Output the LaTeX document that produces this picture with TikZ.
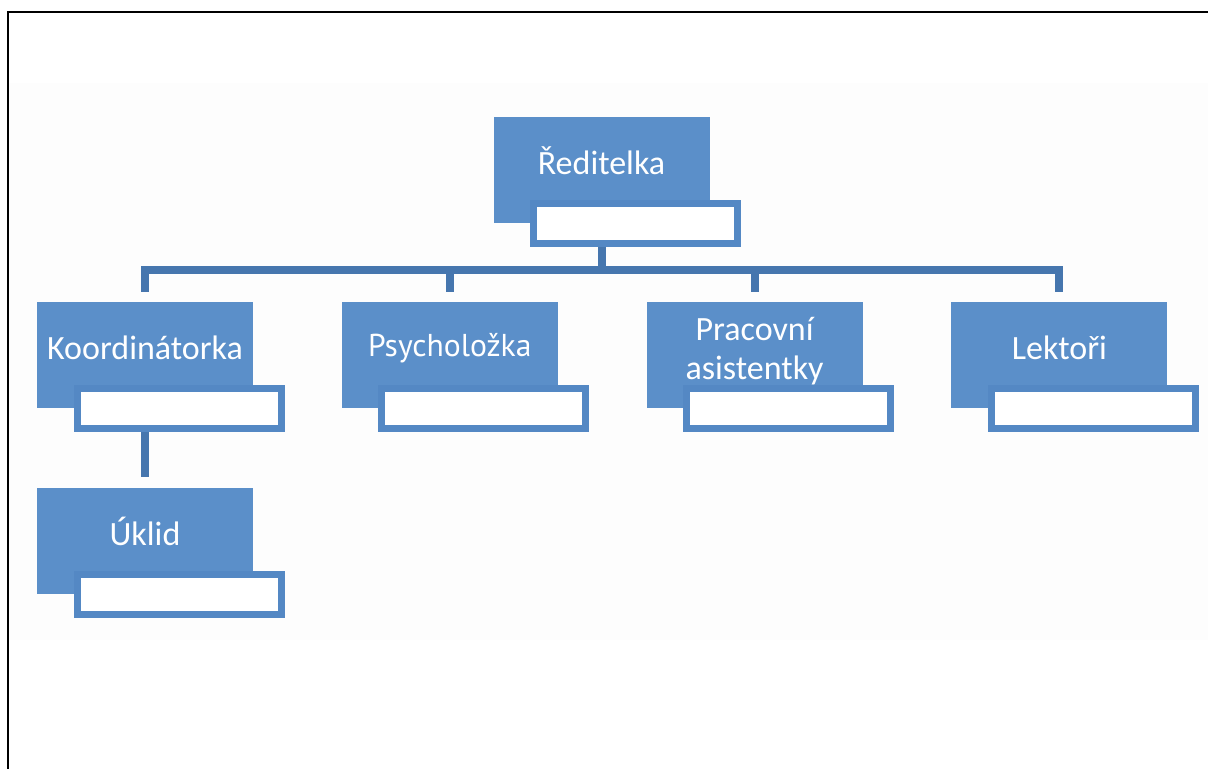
\documentclass[tikz,border=0pt]{standalone}
\usepackage{fontspec}
\setmainfont{Carlito}
\newfontfamily\psyfont{PT Sans}
\usetikzlibrary{positioning}
\definecolor{boxblue}{RGB}{91,143,201}
\definecolor{tabblue}{RGB}{84,136,196}
\definecolor{linkblue}{RGB}{70,118,174}

\begin{document}
\begin{tikzpicture}[x=0.5pt, y=-0.5pt,
		unit/.style={fill=boxblue, text=white, minimum width=108pt, minimum height=53pt, inner sep=2pt, font=\fontsize{17pt}{19.5pt}\selectfont, text height=13pt, text depth=8pt},
		tab/.style={draw=tabblue, line width=3.5pt, fill=white, minimum width=102pt, minimum height=20pt, inner sep=0pt, xshift=17pt},
		link/.style={draw=linkblue, line width=4pt}]
		\fill [white] (0,0) rectangle (1208,769);
		\useasboundingbox (0,0) rectangle (1208,769);
		\fill [black!0.6] (8,83) rectangle (1208,640);
		\draw [line width=1pt] (8,769) -- (8,12) -- (1212,12);

		\node [unit] (R) at (601.5,170) {Ředitelka};
		\node [unit] (K) at (145,355) {Koordinátorka};
		\node [unit, right=44pt of K, font=\psyfont\fontsize{15.8pt}{18pt}\selectfont, text height=11pt, text depth=9pt] (P) {Psycholožka};
		\node [unit, right=44pt of P, text height=28pt, text depth=3pt] (A) {\begin{tabular}[b]{@{}c@{}}Pracovní\\asistentky\end{tabular}};
		\node [unit, right=44pt of A] (L) {Lektoři};
		\node [unit, below=39.5pt of K] (U) {Úklid};

		\node [tab] (Rt) at (R.south) {};
		\node [tab] (Kt) at (K.south) {};
		\node [tab] (Pt) at (P.south) {};
		\node [tab] (At) at (A.south) {};
		\node [tab] (Lt) at (L.south) {};
		\node [tab] (Ut) at (U.south) {};

		\coordinate (bus) at (0,270);
		\draw [link] (R |- Rt.south) -- (R |- bus);
		\draw [link] ([yshift=5pt]K.north) -- (K |- bus) -- (L |- bus) -- ([yshift=5pt]L.north);
		\draw [link] (P |- bus) -- ([yshift=5pt]P.north);
		\draw [link] (A |- bus) -- ([yshift=5pt]A.north);
		\draw [link] (K |- Kt.south) -- ([yshift=5pt]U.north);
	\end{tikzpicture}
\end{document}
